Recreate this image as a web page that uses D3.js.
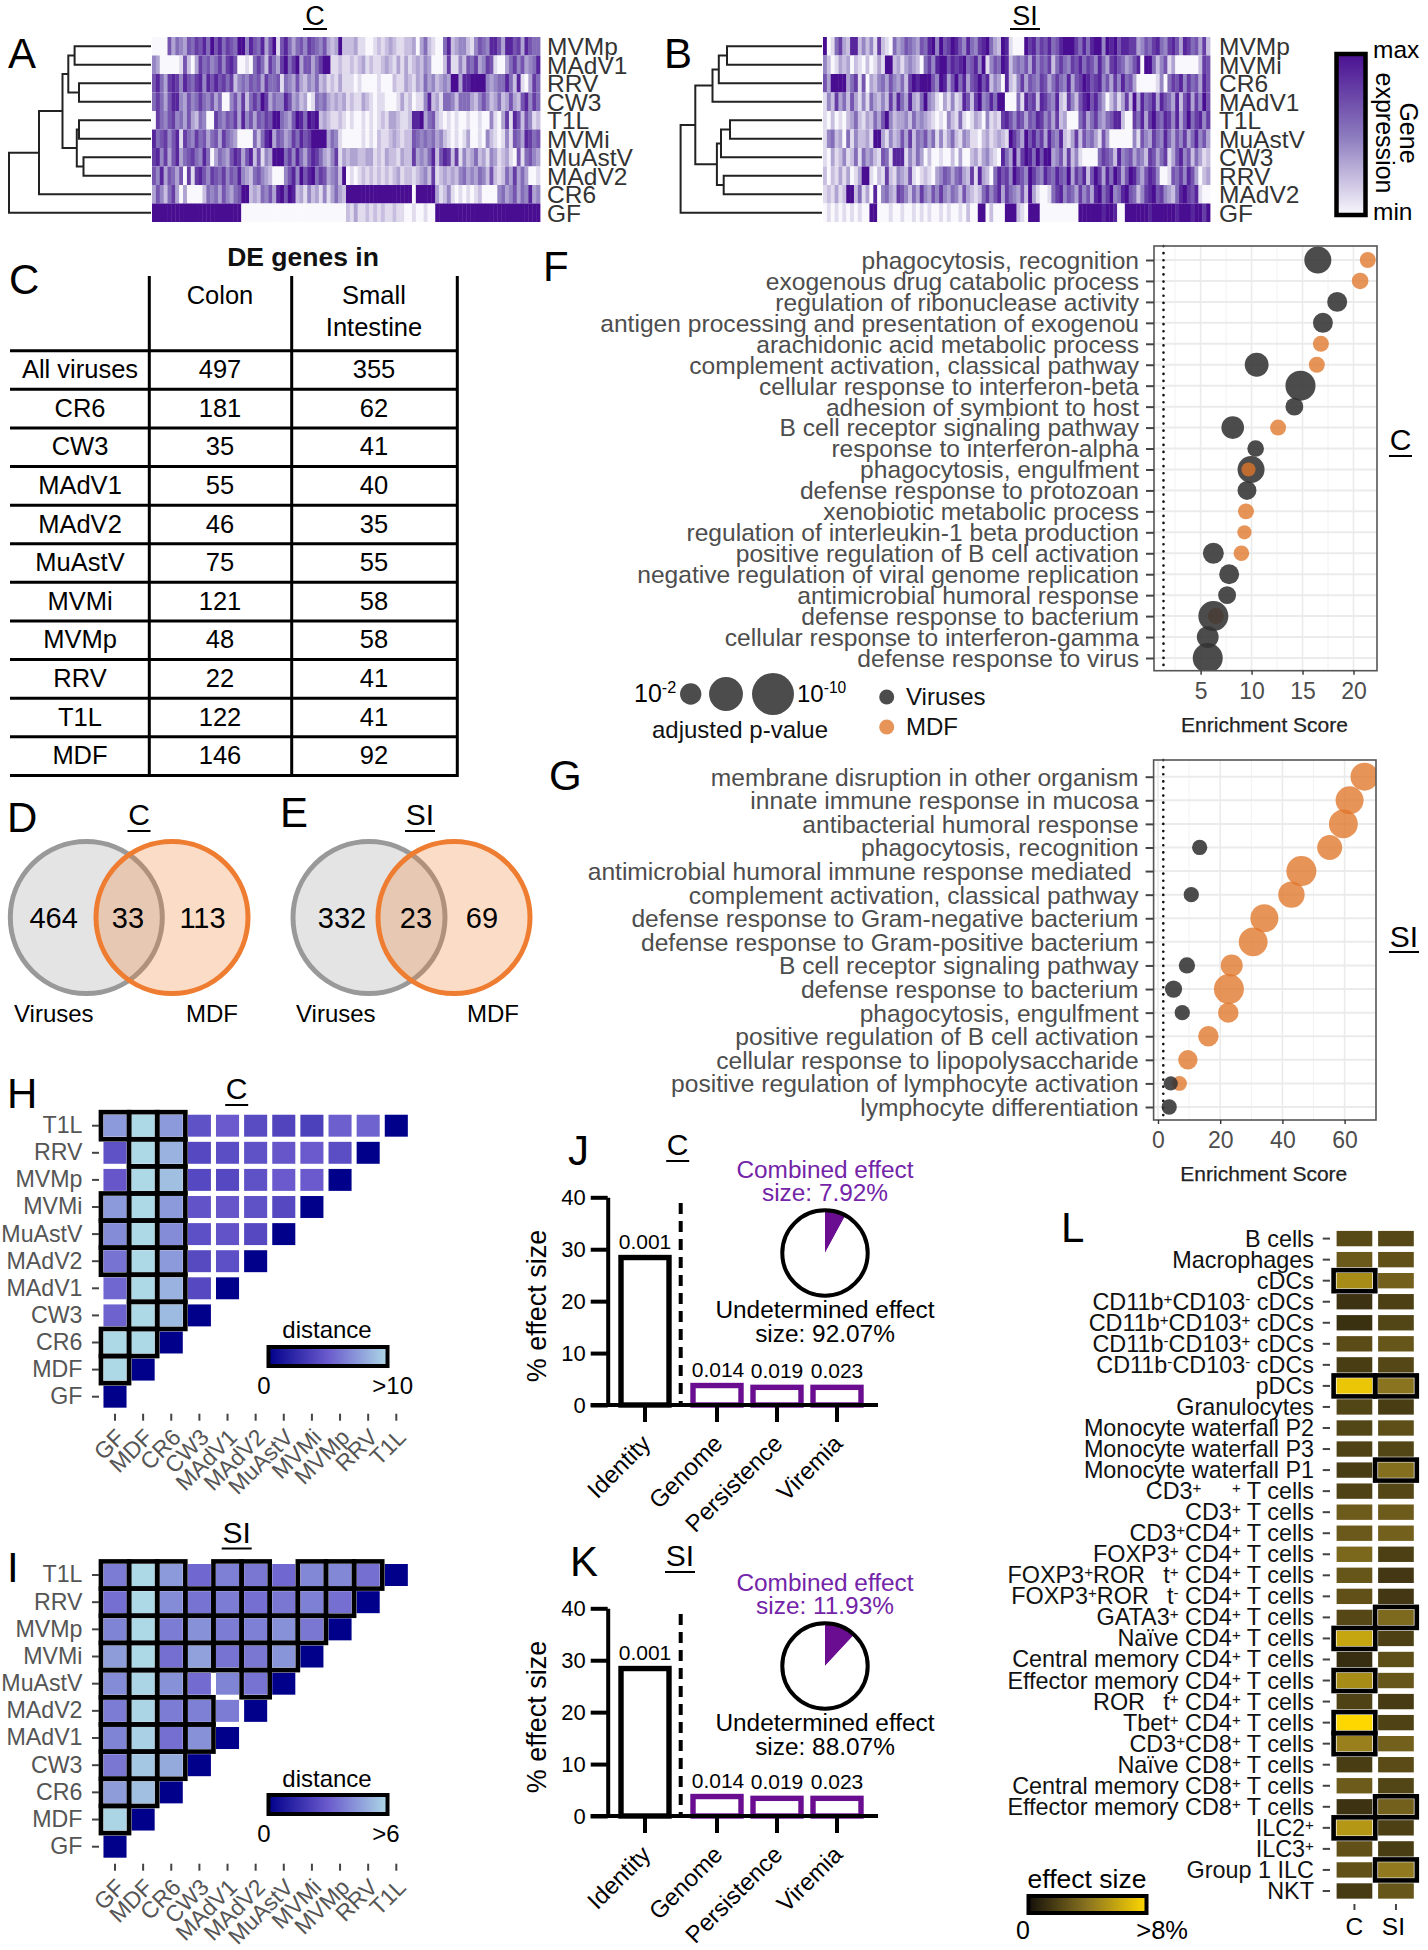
<!DOCTYPE html>
<html><head><meta charset="utf-8">
<script src="https://cdnjs.cloudflare.com/ajax/libs/d3/7.8.5/d3.min.js"></script>
<style>html,body{margin:0;padding:0;background:#fff}svg{display:block}text{font-family:"Liberation Sans",Arial,sans-serif}</style>
</head><body><svg id="c" width="1428" height="1950" xmlns="http://www.w3.org/2000/svg"></svg>
<script>
// ---------- A / B heat maps (read by eye; one digit per column, 0 = min, 9 = max)
const heatRowsC = ["MVMp","MAdV1","RRV","CW3","T1L","MVMi","MuAstV","MAdV2","CR6","GF"];
const heatValuesC = [
"0000635436 5768596857 6599486583 6916853564 7654632392 2231100121 2321122303 5210058234 4214654886 3886738655",
"4300000162 0375645747 8600105752 7537957936 6357991121 1212312112 3213131232 4300027114 2657347610 0357463458",
"6853787486 5784868675 7245465637 5561543632 4352312131 1101000010 0021132132 5342343993 8899994345 5852810375",
"5753688436 4575463500 4637257597 3544863423 0154532323 1211321011 0001312011 4823155425 5532464235 2363268475",
"0754674536 3254007546 5738463657 6995436985 9892321121 0100101012 1332112889 3562101010 0100100410 3718626412",
"8567468175 4756356375 4300005258 9365347586 7999935410 0000101021 1232122654 5453421010 1300104210 1416538756",
"7847368356 7548503543 6873682614 3999574853 6875324713 2332233121 3221322734 3582687271 4235231431 2310615643",
"6483653607 1786476574 6584325643 2000468496 8957634529 0101212121 2123122123 4271232324 5343542621 2537353001",
"3642573030 0002545364 3569923254 6389698231 4231413532 9999999999 9999999099 9993124101 0101200004 5346354834",
"9999999999 9999999999 9990000000 0000000000 0000000000 2131121212 1121100100 1009999999 9999999999 9999999999"];
const heatRowsSI = ["MVMp","MVMi","CR6","MAdV1","T1L","MuAstV","CW3","RRV","MAdV2","GF"];
const heatValuesSI = [
"9015732882 4241721053 4654365894 9679864854 7895329810 0097857685 6899975858 9949896887 7346578547 8638756372",
"4201323021 0201319923 1343205748 9968789568 4914659824 5463746572 5754768576 4853786534 6809952461 3000000276",
"6399993571 6032453643 5279899964 9836958367 9682430821 4736547635 7548367986 7846374856 3000001405 7684756386",
"1427352631 4153242738 5383259431 0314128627 9458599000 5186728754 8217426896 8530241372 9385683865 3826837496",
"1020102352 1325369423 3425343210 1042151013 2041217864 7636587463 7230005735 7435688200 7583796587 4836957847",
"1452305142 2319931423 6372546351 4135214311 0231232197 5396857385 4821372645 3163000000 4164375485 3647358463",
"1031241251 5342165188 8142530200 1002030023 1342108539 3798596993 4627241000 0576528456 3542763571 3684625312",
"2021313013 9910217214 3261012103 4653563271 8320586749 7649754865 8659375826 9738597369 8536874001 6574863023",
"1213129925 1308045327 6425374364 7435426321 2574683754 3629310015 7846537463 8957945896 5247896743 2589768100",
"0101010101 0099000100 1001010100 1010010200 9902000999 2109990000 0000009999 9989980099 9999899999 9899989979"];
const treeC  = [142,"GF",[112,"CR6",[88.5,[82.7,[76.4,"MVMp","MAdV1"],[72,"RRV","CW3"]],[74.2,[72,"T1L","MVMi"],[67.5,"MuAstV","MAdV2"]]]]];
const treeSI = [141.4,[126.7,[109.5,[103.2,[95,"MVMp","MVMi"],"CR6"],"MAdV1"],[105.1,[101,[92,"T1L","MuAstV"],"CW3"],[98.3,"RRV","MAdV2"]]],"GF"];
// ---------- C table
const tableRows  = ["All viruses","CR6","CW3","MAdV1","MAdV2","MuAstV","MVMi","MVMp","RRV","T1L","MDF"];
const tableColon = [497,181,35,55,46,75,121,48,22,122,146];
const tableSI    = [355,62,41,40,35,55,58,58,41,41,92];
// ---------- D / E venn
const vennC  = [464,33,113];
const vennSI = [332,23,69];
// ---------- F enrichment (score, -log10 p); null = no dot
const termsF = ["phagocytosis, recognition","exogenous drug catabolic process","regulation of ribonuclease activity","antigen processing and presentation of exogenou","arachidonic acid metabolic process","complement activation, classical pathway","cellular response to interferon-beta","adhesion of symbiont to host","B cell receptor signaling pathway","response to interferon-alpha","phagocytosis, engulfment","defense response to protozoan","xenobiotic metabolic process","regulation of interleukin-1 beta production","positive regulation of B cell activation","negative regulation of viral genome replication","antimicrobial humoral response","defense response to bacterium","cellular response to interferon-gamma","defense response to virus"];
const virusScoreF = [16.5,null,18.4,17,null,10.5,14.8,14.2,8.15,10.4,9.95,9.55,null,null,6.25,7.8,7.6,6.25,5.7,5.7];
const virusLogPF  = [3.5,null,1.7,1.7,null,2.6,4.5,1.3,2.3,1.1,3.5,1.5,null,null,1.9,1.7,1.3,4.5,2.1,4.5];
const mdfScoreF   = [21.4,20.65,null,null,16.8,16.4,null,null,12.6,null,9.7,null,9.45,9.3,9,null,null,6.5,null,null];
const mdfLogPF    = [1,1.1,null,null,1,1,null,null,1,null,0.75,null,1,0.75,0.95,null,null,1,null,null];
const virusOnTopF = ["defense response to bacterium"];
// ---------- G enrichment
const termsG = ["membrane disruption in other organism","innate immune response in mucosa","antibacterial humoral response","phagocytosis, recognition","antimicrobial humoral immune response mediated\u00a0","complement activation, classical pathway","defense response to Gram-negative bacterium","defense response to Gram-positive bacterium","B cell receptor signaling pathway","defense response to bacterium","phagocytosis, engulfment","positive regulation of B cell activation","cellular response to lipopolysaccharide","positive regulation of lymphocyte activation","lymphocyte differentiation"];
const virusScoreG = [null,null,null,13.4,null,10.7,null,null,9.3,5,7.8,null,null,4.1,3.6];
const virusLogPG  = [null,null,null,0.9,null,0.9,null,null,1.05,1.2,0.9,null,null,0.75,0.9];
const mdfScoreG   = [66.4,61.6,59.6,55.2,46.1,42.9,34.2,30.6,23.7,22.8,22.6,16.2,9.6,6.9,null];
const mdfLogPG    = [3.8,3.8,4.1,2.9,4.5,3.3,3.8,4.1,2.15,4.5,1.8,1.8,1.6,0.85,null];
const virusOnTopG = ["positive regulation of lymphocyte activation"];
// ---------- H / I distance matrices (rows top to bottom, columns left to right)
const distCols = ["GF","MDF","CR6","CW3","MAdV1","MAdV2","MuAstV","MVMi","MVMp","RRV","T1L"];
const distRows = ["T1L","RRV","MVMp","MVMi","MuAstV","MAdV2","MAdV1","CW3","CR6","MDF","GF"];
const distC = [
 [7.5,10,7.5,4.5,5,4.2,3.8,3.6,5.2,5.4,0],
 [4.5,10,8.5,4,4.3,4.5,4.8,5,4.3,0],
 [4.8,10,9,4,4,4.5,5,5,0],
 [7.5,10,7.5,4.6,4.8,4.5,4,0],
 [7,10,7,4.4,4.6,4,0],
 [6,10,7.5,4.1,4.4,0],
 [5.5,10,8.5,4,0],
 [5.3,10,8.8,0],
 [10,10,0],
 [10,0],
 [0]];
const sigC = ["111","011","011","111","111","111","011","011","11","1",""];
const distSI = [
 [3.8,6,4.5,3.3,3.9,3.7,3.3,4.1,4.1,3.5,0],
 [3.5,6,4.2,3.6,3.8,3.5,3.7,3.9,3.5,0],
 [4,6,3.8,4.3,3.8,3.9,4.3,3.7,0],
 [4.6,6,3.5,4.7,3.6,3.7,4.4,0],
 [4.2,5.9,4.3,3.4,4,3.6,0],
 [3.8,5.9,3.8,3.9,3.8,0],
 [4,5.8,3.5,4.3,0],
 [3.7,5.6,4.9,0],
 [4.6,5.4,0],
 [5.9,0],
 [0]];
const sigSI = ["1110110111","111111111","11111111","1111111","1110010","1111","1111","111","11","1",""];
// ---------- J / K effect sizes
const effectCats = ["Identity","Genome","Persistence","Viremia"];
const effectVals = [28.4,3.75,3.4,3.4];
const effectP    = ["0.001","0.014","0.019","0.023"];
const effectTicks = [0,10,20,30,40];
const pieC  = [7.92,92.07];
const pieSI = [11.93,88.07];
// ---------- L cell types
const cellLabels = ["B cells","Macrophages","cDCs","CD11b^+^CD103^-^ cDCs","CD11b^+^CD103^+^ cDCs","CD11b^-^CD103^+^ cDCs","CD11b^-^CD103^-^ cDCs","pDCs","Granulocytes","Monocyte waterfall P2","Monocyte waterfall P3","Monocyte waterfall P1","CD3^+\u2003\u2002\u2002+^ T cells","CD3^+^ T cells","CD3^+^CD4^+^ T cells","FOXP3^+^ CD4^+^ T cells","FOXP3^+^ROR\u2002 t^+^ CD4^+^ T cells","FOXP3^+^ROR\u2002 t^-^ CD4^+^ T cells","GATA3^+^ CD4^+^ T cells","Naïve CD4^+^ T cells","Central memory CD4^+^ T cells","Effector memory CD4^+^ T cells","ROR\u2002 t^+^ CD4^+^ T cells","Tbet^+^ CD4^+^ T cells","CD3^+^CD8^+^ T cells","Naïve CD8^+^ T cells","Central memory CD8^+^ T cells","Effector memory CD8^+^ T cells","ILC2^+^","ILC3^+^","Group 1 ILC","NKT"];
const cellEffectC  = [2.3,2.9,5.0,1.4,1.3,2.4,1.8,7.3,2.1,2.1,2.0,1.8,2.0,3.0,2.9,3.5,2.8,2.6,2.2,6.0,1.2,5.0,2.0,8,4.5,1.8,3.0,1.4,5.4,2.6,2.6,1.7];
const cellEffectSI = [2.2,2.6,3.2,1.9,2.1,2.8,2.2,4.0,1.8,2.5,2.1,3.8,2.2,3.0,3.2,1.9,1.6,1.6,3.6,1.9,2.5,2.8,1.7,2.0,3.2,2.4,2.1,3.2,1.9,1.8,4.2,2.8];
const cellSigC  = ["cDCs","pDCs","Naïve CD4^+^ T cells","Effector memory CD4^+^ T cells","Tbet^+^ CD4^+^ T cells","CD3^+^CD8^+^ T cells","ILC2^+^"];
const cellSigSI = ["pDCs","Monocyte waterfall P1","GATA3^+^ CD4^+^ T cells","Effector memory CD8^+^ T cells","Group 1 ILC"];

// ---------- helpers
const svg = d3.select("#c");
const defs = svg.append("defs");
function txt(x,y,s,size,opt={}){
  const t = svg.append("text").attr("x",x).attr("y",y).attr("font-size",size)
    .attr("text-anchor",opt.anchor||"start").attr("fill",opt.fill||"#000").text(s);
  if(opt.weight) t.attr("font-weight",opt.weight);
  return t;
}
function letter(s,x,y){ txt(x,y,s,42); }
function title(s,cx,y,uy,w,size=30){
  txt(cx,y,s,size,{anchor:"middle"});
  svg.append("line").attr("x1",cx-w/2).attr("x2",cx+w/2).attr("y1",uy).attr("y2",uy).attr("stroke","#000").attr("stroke-width",2);
}
function richText(sel,label,size,supDy){
  label.split("^").forEach((part,i)=>{
    if(!part) return;
    const span = sel.append("tspan").text(part);
    if(i%2===1){ span.attr("font-size",size*0.65).attr("dy",-supDy); }
    else if(i>0){ span.attr("dy",supDy); }
  });
}
function gradient(id,stops,vertical){
  const g = defs.append("linearGradient").attr("id",id).attr("x1",0).attr("y1",vertical?1:0).attr("x2",vertical?0:1).attr("y2",0);
  stops.forEach((c,i)=>g.append("stop").attr("offset",i/(stops.length-1)).attr("stop-color",c));
}

letter("A",8,68); letter("B",664,68); letter("C",9,294); letter("D",7,832); letter("E",280,827);
letter("F",543,281); letter("G",549,790); letter("H",7,1108); letter("I",7,1582); letter("J",568,1165); letter("K",570,1576); letter("L",1061,1242);

// ---------- heat maps with dendrograms
const blur = defs.append("filter").attr("id","soft").attr("x","-2%").attr("y","-2%").attr("width","104%").attr("height","104%");
blur.append("feGaussianBlur").attr("stdDeviation","0.4 0.3");
const heatColor = d3.scaleLinear().domain([0,4.5,9]).range(["#f9f8fc","#8a78bd","#4a1092"]);
function heat(rows,values,tree,x0,x1,treeLeft,treeRight,labelX){
  const x = d3.scaleBand().domain(d3.range(100)).range([x0,x1]);
  const y = d3.scaleBand().domain(rows).range([37,222]);
  const g = svg.append("g").attr("filter","url(#soft)");
  rows.forEach((r,i)=>{
    const digits = values[i].replace(/ /g,"").split("").map(Number);
    g.selectAll(null).data(digits).join("rect")
      .attr("x",(d,j)=>x(j)).attr("y",y(r)).attr("width",x.bandwidth()+0.4).attr("height",y.bandwidth())
      .attr("fill",d=>heatColor(d));
  });
  svg.selectAll(null).data(rows).join("text").attr("x",labelX).attr("y",r=>y(r)+y.bandwidth()/2+9)
    .attr("font-size",24.5).attr("fill","#333").text(d=>d);
  const hScale = d3.scaleLinear().domain([0,tree[0]]).range([treeRight,treeLeft]);
  const segs = [];
  (function walk(n){
    if(typeof n==="string") return {h:0,y:y(n)+y.bandwidth()/2};
    const a = walk(n[1]), b = walk(n[2]);
    segs.push([n[0],a.y,a.h,b.y,b.h]);
    return {h:n[0],y:(a.y+b.y)/2};
  })(tree);
  svg.selectAll(null).data(segs).join("path")
    .attr("d",s=>{const p=d3.path();p.moveTo(hScale(s[2]),s[1]);p.lineTo(hScale(s[0]),s[1]);p.lineTo(hScale(s[0]),s[3]);p.lineTo(hScale(s[4]),s[3]);return p.toString();})
    .attr("fill","none").attr("stroke","#222").attr("stroke-width",2);
}
heat(heatRowsC,heatValuesC,treeC,152,540,9,151,547);
heat(heatRowsSI,heatValuesSI,treeSI,823,1210,680.6,822,1219);
title("C",315,25,29,24,27);
title("SI",1025,25,29,30,27);
gradient("gHeat",[heatColor(0),heatColor(4.5),heatColor(9)],true);
svg.append("rect").attr("x",1336.5).attr("y",54).attr("width",29).attr("height",161).attr("fill","url(#gHeat)").attr("stroke","#000").attr("stroke-width",4.5);
txt(1373,58,"max",24.5); txt(1373,220,"min",24.5);
[["Gene",1400],["expression",1376]].forEach(d=>{
  svg.append("text").attr("transform",`translate(${d[1]},133) rotate(90)`).attr("text-anchor","middle").attr("font-size",25).text(d[0]);
});

// ---------- table
const tableY = d3.scaleBand().domain(tableRows).range([350.7,775.4]);
const tableLineY = [350.7].concat(tableRows.map(r=>tableY(r)+tableY.bandwidth()));
svg.selectAll(null).data(tableLineY).join("line").attr("x1",10).attr("x2",458).attr("y1",d=>d).attr("y2",d=>d).attr("stroke","#000").attr("stroke-width",3);
svg.selectAll(null).data([149.3,291.7,457.3]).join("line").attr("x1",d=>d).attr("x2",d=>d).attr("y1",276).attr("y2",777).attr("stroke","#000").attr("stroke-width",3);
txt(303,266,"DE genes in",26.5,{anchor:"middle",weight:"bold",fill:"#111"});
txt(220,304,"Colon",25.5,{anchor:"middle"}); txt(374,304,"Small",25.5,{anchor:"middle"}); txt(374,336,"Intestine",25.5,{anchor:"middle"});
tableRows.forEach((r,i)=>{
  const b = tableY(r)+27.5;
  txt(80,b,r,25.5,{anchor:"middle"}); txt(220,b,tableColon[i],25.5,{anchor:"middle"}); txt(374,b,tableSI[i],25.5,{anchor:"middle"});
});

// ---------- venn
function venn(cGray,cOrange,cy,vals,xs,vx,mx,r){
  svg.append("circle").attr("cx",cGray).attr("cy",cy).attr("r",r).attr("fill","#bfbfbf").attr("fill-opacity",.42).attr("stroke","#999").attr("stroke-width",5);
  svg.append("circle").attr("cx",cOrange).attr("cy",cy).attr("r",r).attr("fill","#f0802f").attr("fill-opacity",.27).attr("stroke","#ee7d31").attr("stroke-width",5);
  vals.forEach((v,i)=>txt(xs[i],928,v,29,{anchor:"middle"}));
  txt(vx,1022,"Viruses",24); txt(mx,1022,"MDF",24);
}
venn(86.3,172,917.5,vennC,[53.6,128,202.5],14,186,76);
venn(369,454,917.5,vennSI,[342,416,482],296,467,76);
title("C",139,825,831,23); title("SI",420,825,831,30);

// ---------- F / G dot plots
const sizeScale = d3.scalePow().exponent(0.42).domain([0,10]).range([0,21]);
const VIRUS = "#333333", MDF = "#e0762a";
function dots(id,terms,vS,vP,mS,mP,onTop,xDomain,xRange,xTicks,yRange,box,labelY){
  const x = d3.scaleLinear().domain(xDomain).range(xRange);
  const y = d3.scalePoint().domain(terms).range(yRange);
  const [L,T,R,B] = box;
  defs.append("clipPath").attr("id",id).append("rect").attr("x",L).attr("y",T).attr("width",R-L).attr("height",B-T);
  const inv = x.invert;
  const minorStep = (xTicks[1]-xTicks[0])/2;
  const minors = d3.range(xTicks[0]-minorStep,inv(R),xTicks[1]-xTicks[0]).filter(v=>x(v)>L);
  svg.selectAll(null).data(minors).join("line").attr("x1",d=>x(d)).attr("x2",d=>x(d)).attr("y1",T).attr("y2",B).attr("stroke","#f2f2f2").attr("stroke-width",1);
  svg.selectAll(null).data(xTicks).join("line").attr("x1",d=>x(d)).attr("x2",d=>x(d)).attr("y1",T).attr("y2",B).attr("stroke","#ebebeb").attr("stroke-width",1.6);
  svg.selectAll(null).data(terms).join("line").attr("x1",L).attr("x2",R).attr("y1",d=>y(d)).attr("y2",d=>y(d)).attr("stroke","#ebebeb").attr("stroke-width",2);
  const dotX = x(xDomain[0]===0?1.7:1.36);
  svg.append("line").attr("x1",dotX).attr("x2",dotX).attr("y1",T).attr("y2",B).attr("stroke","#111").attr("stroke-width",2.6).attr("stroke-linecap","round").attr("stroke-dasharray","0.1,7");
  const g = svg.append("g").attr("clip-path",`url(#${id})`);
  const items = [];
  terms.forEach((t,i)=>{
    const v = vS[i]!=null ? {t,s:vS[i],p:vP[i],c:VIRUS,o:.88} : null;
    const m = mS[i]!=null ? {t,s:mS[i],p:mP[i],c:MDF,o:.78} : null;
    if(onTop.includes(t)) { if(m) items.push(m); if(v) items.push(v); }
    else { if(v) items.push(v); if(m) items.push(m); }
  });
  g.selectAll("circle").data(items).join("circle").attr("cx",d=>x(d.s)).attr("cy",d=>y(d.t)).attr("r",d=>sizeScale(d.p)).attr("fill",d=>d.c).attr("fill-opacity",d=>d.o);
  svg.append("rect").attr("x",L).attr("y",T).attr("width",R-L).attr("height",B-T).attr("fill","none").attr("stroke","#555").attr("stroke-width",1.6);
  const ax = svg.append("g").attr("transform",`translate(0,${B})`).call(d3.axisBottom(x).tickValues(xTicks).tickSize(4).tickPadding(8));
  ax.select(".domain").remove(); ax.selectAll("line").attr("stroke","#333").attr("stroke-width",1.4);
  ax.selectAll("text").attr("font-size",23).attr("fill","#4d4d4d").style("font-family",'"Liberation Sans"');
  const ay = svg.append("g").attr("transform",`translate(${L},0)`).call(d3.axisLeft(y).tickSize(8).tickPadding(7));
  ay.select(".domain").remove(); ay.selectAll("line").attr("stroke","#444").attr("stroke-width",2);
  ay.selectAll("text").attr("font-size",24.6).attr("fill","#4d4d4d").attr("dy","0.34em").style("font-family",'"Liberation Sans"');
  txt((L+R)/2-1,labelY,"Enrichment Score",21,{anchor:"middle",fill:"#222"}).attr("stroke","#222").attr("stroke-width",.25);
}
dots("clipF",termsF,virusScoreF,virusLogPF,mdfScoreF,mdfLogPF,virusOnTopF,[5,20],[1200.6,1353.5],[5,10,15,20],[260,658],[1154,246,1377,670.7],731.7);
dots("clipG",termsG,virusScoreG,virusLogPG,mdfScoreG,mdfLogPG,virusOnTopG,[0,60],[1158,1344.6],[0,20,40,60],[776.7,1107],[1153.6,760,1376,1120],1181);
title("C",1400.5,450,456,23); title("SI",1404,947,952,30);
// F size legend
const legendP = [2,6,10];
const legendX = d3.scaleOrdinal().domain(legendP).range([690.7,726,773]);
svg.selectAll(null).data(legendP).join("circle").attr("cx",d=>legendX(d)).attr("cy",694).attr("r",d=>sizeScale(d)).attr("fill","#333").attr("fill-opacity",.88);
richText(svg.append("text").attr("x",634).attr("y",702).attr("font-size",25),"10^-2^",25,9);
richText(svg.append("text").attr("x",797).attr("y",702).attr("font-size",24),"10^-10^",24,9);
txt(740,738,"adjusted p-value",24,{anchor:"middle",fill:"#111"});
svg.append("circle").attr("cx",886.7).attr("cy",697).attr("r",7.5).attr("fill",VIRUS).attr("fill-opacity",.88);
svg.append("circle").attr("cx",886.7).attr("cy",727).attr("r",7.5).attr("fill",MDF).attr("fill-opacity",.78);
txt(906,705,"Viruses",24,{fill:"#111"}); txt(906,735,"MDF",24,{fill:"#111"});

// ---------- H / I triangular matrices
const distColor = t=>d3.scaleLinear().domain([0,.5,1]).range(["#00008b","#6a5acd","#add8e6"])(t);
function matrix(vals,sig,maxV,topY,bottomY,legendBaseY,legendRectY,maxLabel){
  const stepX = (396.3-115)/10, stepY = (bottomY-topY)/10;
  const x = d3.scaleBand().domain(distCols).range([115-stepX/2,396.3+stepX/2]).paddingInner(.18).paddingOuter(.09);
  const y = d3.scaleBand().domain(distRows).range([topY-stepY/2,bottomY+stepY/2]).paddingInner(.19).paddingOuter(.095);
  const cells = [], boxes = [];
  vals.forEach((row,i)=>row.forEach((v,j)=>{
    cells.push({r:distRows[i],c:distCols[j],v});
    if((sig[i]||"")[j]==="1") boxes.push({r:distRows[i],c:distCols[j]});
  }));
  svg.selectAll(null).data(cells).join("rect").attr("x",d=>x(d.c)).attr("y",d=>y(d.r)).attr("width",x.bandwidth()).attr("height",y.bandwidth()).attr("fill",d=>distColor(d.v/maxV));
  svg.selectAll(null).data(boxes).join("rect").attr("x",d=>x(d.c)+x.bandwidth()/2-stepX/2).attr("y",d=>y(d.r)+y.bandwidth()/2-stepY/2).attr("width",stepX).attr("height",stepY).attr("fill","none").attr("stroke","#000").attr("stroke-width",4.6);
  const ay = svg.append("g").attr("transform","translate(99,0)").call(d3.axisLeft(y).tickSize(7).tickPadding(9.5));
  ay.select(".domain").remove(); ay.selectAll("line").attr("stroke","#444").attr("stroke-width",2);
  ay.selectAll("text").attr("font-size",23.2).attr("fill","#555").style("font-family",'"Liberation Sans"');
  const ax = svg.append("g").attr("transform",`translate(0,${bottomY+17})`).call(d3.axisBottom(x).tickSize(7).tickPadding(0));
  ax.select(".domain").remove(); ax.selectAll("line").attr("stroke","#444").attr("stroke-width",2);
  ax.selectAll("text").attr("font-size",23).attr("fill","#555").attr("text-anchor","end").attr("dy",0)
    .attr("transform","translate(11,25) rotate(-45)").attr("y",0).style("font-family",'"Liberation Sans"');
  txt(327,legendBaseY,"distance",24,{anchor:"middle"});
  svg.append("rect").attr("x",268.5).attr("y",legendRectY).attr("width",119).attr("height",19).attr("fill","url(#gDist)").attr("stroke","#000").attr("stroke-width",4);
  txt(264,legendRectY+47,"0",24,{anchor:"middle"});
  txt(maxLabel==">10"?413:399.5,legendRectY+47,maxLabel,24,{anchor:"end"});
}
gradient("gDist",["#00008b","#6a5acd","#add8e6"],false);
matrix(distC,sigC,10,1125.7,1396.7,1338,1347,">10");
matrix(distSI,sigSI,6,1575,1846.7,1787,1795,">6");
title("C",236.7,1099,1105,23); title("SI",236.7,1543,1548.5,30);

// ---------- J / K
function effect(dy,dyNote,pie,combined,undetermined){
  const y = d3.scaleLinear().domain([0,40]).range([1405+dy,1197.3+dy]);
  const x = d3.scaleOrdinal().domain(effectCats).range([645,717,777,837]);
  svg.selectAll(null).data(effectCats).join("rect")
    .attr("x",d=>x(d)-24).attr("width",48).attr("y",(d,i)=>y(effectVals[i])).attr("height",(d,i)=>y(0)-y(effectVals[i]))
    .attr("fill","#fff").attr("stroke",(d,i)=>i?"#6a0d91":"#000").attr("stroke-width",5.4);
  svg.selectAll(null).data(effectCats).join("text").attr("x",d=>x(d)+(d==="Genome"?1:0)).attr("y",(d,i)=>y(effectVals[i])-9).attr("text-anchor","middle").attr("font-size",21).text((d,i)=>effectP[i]);
  const ay = svg.append("g").attr("transform","translate(607.7,0)").call(d3.axisLeft(y).tickValues(effectTicks).tickSize(17).tickSizeOuter(0).tickPadding(5));
  ay.select(".domain").attr("stroke","#000").attr("stroke-width",4);
  ay.selectAll("line").attr("stroke","#000").attr("stroke-width",4);
  ay.selectAll("text").attr("font-size",22).attr("fill","#000").style("font-family",'"Liberation Sans"');
  svg.append("line").attr("x1",590.7).attr("x2",878).attr("y1",y(0)).attr("y2",y(0)).attr("stroke","#000").attr("stroke-width",4);
  svg.selectAll(null).data(effectCats).join("line").attr("x1",d=>x(d)).attr("x2",d=>x(d)).attr("y1",y(0)).attr("y2",y(0)+17).attr("stroke","#000").attr("stroke-width",4);
  svg.selectAll(null).data(effectCats).join("text").attr("font-size",24).attr("text-anchor","end")
    .attr("transform",d=>`translate(${x(d)+7},${y(0)+40}) rotate(-45)`).text(d=>d);
  svg.append("line").attr("x1",680.7).attr("x2",680.7).attr("y1",1203+dy).attr("y2",y(0)).attr("stroke","#000").attr("stroke-width",4).attr("stroke-dasharray","11,7");
  svg.append("text").attr("transform",`translate(546,${1306+dy}) rotate(-90)`).attr("text-anchor","middle").attr("font-size",27).text("% effect size");
  const PURPLE = "#7324a8";
  txt(825,1178+dyNote,"Combined effect",24.4,{anchor:"middle",fill:PURPLE});
  txt(825,1201+dyNote,`size: ${combined}%`,24.4,{anchor:"middle",fill:PURPLE});
  const arcs = d3.pie().sort(null)(pie);
  const arc = d3.arc().innerRadius(0).outerRadius(42.7);
  svg.selectAll(null).data(arcs).join("path").attr("transform",`translate(825,${1253+dyNote})`).attr("d",arc).attr("fill",(d,i)=>i?"#fff":"#6a0d91");
  svg.append("circle").attr("cx",825).attr("cy",1253+dyNote).attr("r",42.7).attr("fill","none").attr("stroke","#000").attr("stroke-width",4);
  txt(825,1318+dyNote,"Undetermined effect",24.4,{anchor:"middle"});
  txt(825,1342+dyNote,`size: ${undetermined}%`,24.4,{anchor:"middle"});
}
effect(0,0,pieC,"7.92","92.07");
effect(411,413,pieSI,"11.93","88.07");
title("C",677.7,1155,1161,23); title("SI",680,1566,1572,30);

// ---------- L
const effectColor = d3.scaleLinear().domain([0,4,8]).range(["#14100a","#8a7420","#ffd700"]);
const lx = d3.scaleBand().domain(["C","SI"]).range([1333.7,1416.7]).paddingInner(.14).paddingOuter(.07);
const ly = d3.scaleBand().domain(cellLabels).range([1228.07,1901.5]).paddingInner(.27).paddingOuter(.135);
[["C",cellEffectC],["SI",cellEffectSI]].forEach(([k,vals])=>{
  svg.selectAll(null).data(cellLabels).join("rect").attr("x",lx(k)).attr("width",lx.bandwidth()).attr("y",d=>ly(d)).attr("height",ly.bandwidth()).attr("fill",(d,i)=>effectColor(vals[i]));
});
[["C",cellSigC],["SI",cellSigSI]].forEach(([k,sig])=>{
  svg.selectAll(null).data(sig).join("rect").attr("x",lx(k)-3).attr("width",lx.bandwidth()+6).attr("y",d=>ly(d)+ly.bandwidth()/2-10.5).attr("height",21).attr("fill","none").attr("stroke","#000").attr("stroke-width",4.6);
});
cellLabels.forEach(l=>{
  const t = svg.append("text").attr("x",1314).attr("y",ly(l)+ly.bandwidth()/2+8).attr("text-anchor","end").attr("font-size",23.4).attr("fill","#111");
  richText(t,l,23.4,6);
});
svg.selectAll(null).data(cellLabels).join("line").attr("x1",1322.7).attr("x2",1330).attr("y1",d=>ly(d)+ly.bandwidth()/2).attr("y2",d=>ly(d)+ly.bandwidth()/2).attr("stroke","#444").attr("stroke-width",2);
svg.selectAll(null).data(lx.domain()).join("line").attr("x1",d=>lx(d)+lx.bandwidth()/2).attr("x2",d=>lx(d)+lx.bandwidth()/2).attr("y1",1904).attr("y2",1910).attr("stroke","#444").attr("stroke-width",2);
svg.selectAll(null).data(lx.domain()).join("text").attr("x",d=>lx(d)+lx.bandwidth()/2-(d==="SI"?2.5:0)).attr("y",1934.6).attr("text-anchor","middle").attr("font-size",24.5).text(d=>d);
gradient("gEff",["#14100a","#8a7420","#ffd700"],false);
txt(1087,1888,"effect size",26.5,{anchor:"middle"});
svg.append("rect").attr("x",1028.5).attr("y",1896).attr("width",118).attr("height",17).attr("fill","url(#gEff)").attr("stroke","#000").attr("stroke-width",4);
txt(1023,1939,"0",25,{anchor:"middle"}); txt(1188,1939,">8%",25.5,{anchor:"end"});
</script></body></html>
